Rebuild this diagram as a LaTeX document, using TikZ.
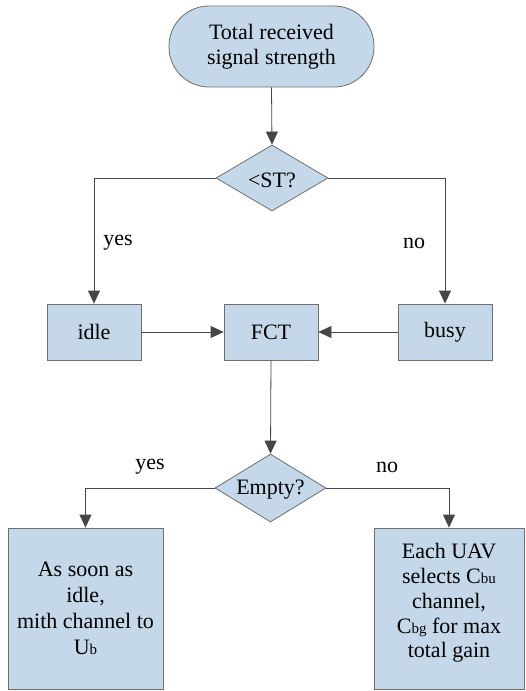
\documentclass[tikz,border=0pt]{standalone}
\usepackage{fontspec}
\setmainfont{LiberationSerif}[Extension=.ttf,UprightFont=*-Regular,BoldFont=*-Bold]
\usetikzlibrary{arrows.meta,shapes.geometric}
\definecolor{boxfill}{RGB}{197,216,234}
\definecolor{boxline}{RGB}{110,110,110}
\definecolor{arrowcol}{RGB}{70,70,70}
\newcommand{\smallsub}[1]{{\fontsize{15}{15}\selectfont #1}}
\begin{document}
\begin{tikzpicture}[x=1pt,y=-1pt,
  every node/.style={font=\rmfamily\fontsize{22}{27}\selectfont},
  basebox/.style={draw=boxline,fill=boxfill,line width=0.8pt,inner sep=0pt,align=center},
  procbox/.style={basebox,rectangle,minimum width=94pt,minimum height=56pt},
  decision/.style={basebox,diamond,aspect=1.7},
  conn/.style={draw=arrowcol,line width=0.8pt,-{Triangle[length=13pt,width=12pt]}},
  lbl/.style={inner sep=0pt}]
\useasboundingbox (0,0) rectangle (526,691);
\node[basebox,rectangle,rounded corners=40pt,minimum width=205pt,minimum height=81pt,font=\rmfamily\fontsize{22}{25}\selectfont] (start) at (271.5,46.5) {Total received\\signal strength};
\node[decision,minimum width=112pt,minimum height=66pt] (d1) at (272,178) {};
\node at (272,180) {<ST?};
\node[procbox] (idle) at (94,332) {idle};
\node[procbox] (fct) at (271,332) {FCT};
\node[procbox] (busy) at (445,332) {busy};
\node[decision,minimum width=111pt,minimum height=68pt] (d2) at (270.5,488) {};
\node at (270.5,490) {Empty?};
\node[basebox,rectangle,minimum width=155pt,minimum height=161pt] (left) at (85.5,608.5) {};
\node (lefttext) at (85.5,608) [align=center,font=\rmfamily\fontsize{22}{26}\selectfont] {As soon as\\idle,\\mith channel to\\U\smallsub{b}};
\node[basebox,rectangle,minimum width=150pt,minimum height=161pt] (right) at (449,608.5) {};
\node (righttext) at (449,603) [align=center,font=\rmfamily\fontsize{22}{24.8}\selectfont] {Each UAV\\selects C\smallsub{bu}\\channel,\\C\smallsub{bg} for max\\total gain};
\draw[conn] (start.south) -- (d1.north);
\draw[conn] (d1.west) -| (idle.north);
\draw[conn] (d1.east) -| (busy.north);
\draw[conn] (idle.east) -- (fct.west);
\draw[conn] (busy.west) -- (fct.east);
\draw[conn] (fct.south) -- (d2.north);
\draw[conn] (d2.west) -| (left.north);
\draw[conn] (d2.east) -| (right.north);
\node[lbl] (yes1) at (118,243) {yes};
\node[lbl] (no1) at (414,243) {no};
\node[lbl] (yes2) at (150,467) {yes};
\node[lbl] (no2) at (387,467) {no};
\end{tikzpicture}
\end{document}
